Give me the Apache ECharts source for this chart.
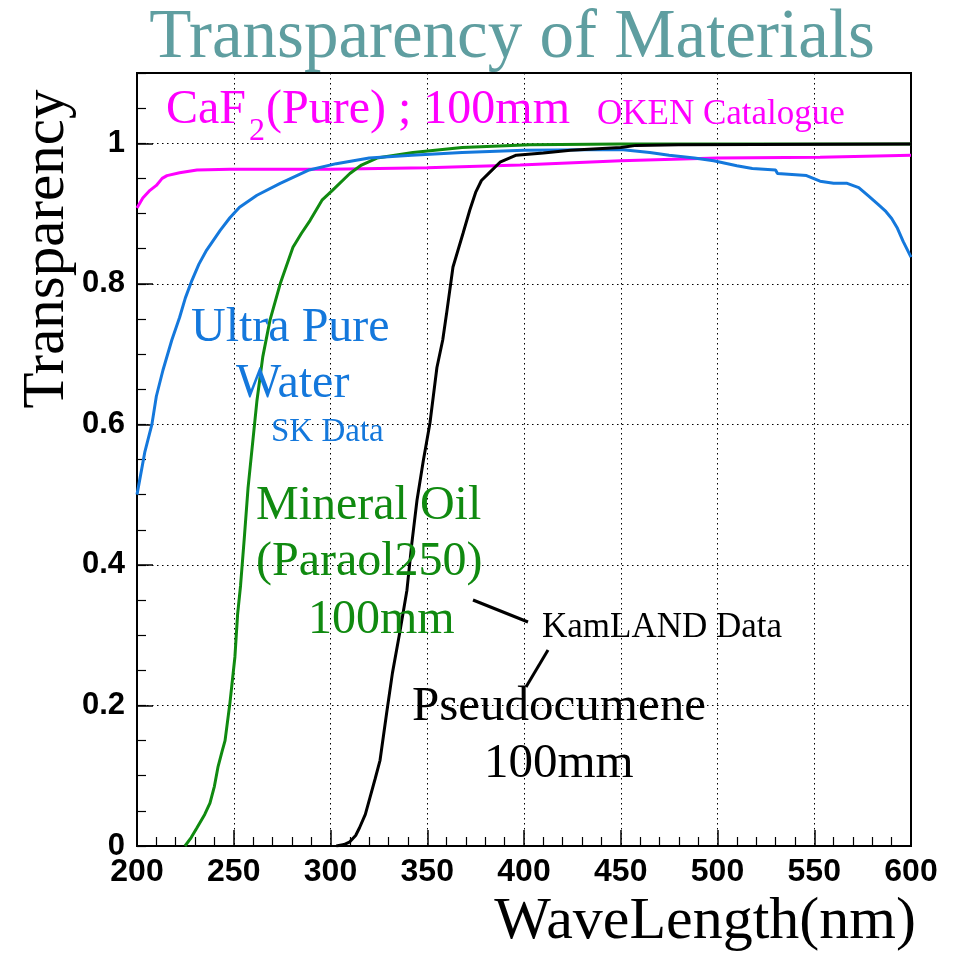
<!DOCTYPE html>
<html>
<head>
<meta charset="utf-8">
<script src="https://cdn.jsdelivr.net/npm/echarts@6/dist/echarts.min.js"></script>
<style>html,body{margin:0;padding:0;background:#fff}#c{width:959px;height:955px}</style>
</head>
<body>
<div id="c"></div>
<script>
// ---- data ----
const xTicks = [200, 250, 300, 350, 400, 450, 500, 550, 600];
const yTicks = [0, 0.2, 0.4, 0.6, 0.8, 1];

const caf2Wl = [200, 203, 206.7, 210, 213, 215.5, 222, 231, 248, 300, 350, 398, 450, 500, 553, 600];
const caf2T  = [0.908, 0.922, 0.933, 0.940, 0.950, 0.954, 0.958, 0.962, 0.963, 0.963, 0.965, 0.969, 0.975, 0.979, 0.980, 0.983];

const waterWl = [200, 204, 207.7, 210, 213.4, 218, 222, 225, 228.4, 232, 236, 243, 248, 253, 262, 274, 289, 303, 320, 342, 368, 400, 450, 465, 475, 488, 498, 510, 518, 530, 531, 546, 553, 560, 567, 573, 578, 583, 587, 590, 593, 596, 600];
const waterT  = [0.50, 0.56, 0.60, 0.64, 0.677, 0.72, 0.752, 0.78, 0.805, 0.828, 0.848, 0.876, 0.894, 0.909, 0.926, 0.943, 0.962, 0.971, 0.979, 0.983, 0.987, 0.990, 0.991, 0.987, 0.983, 0.979, 0.975, 0.968, 0.964, 0.962, 0.957, 0.954, 0.946, 0.943, 0.943, 0.937, 0.925, 0.913, 0.903, 0.893, 0.879, 0.860, 0.838];

const oilWl = [224.8, 228, 231, 235, 237.7, 240, 241.9, 244, 245.5, 248, 250.6, 252, 253.5, 255.5, 257.4, 260, 262, 265, 268.7, 274, 280.6, 285, 289.4, 295.6, 301, 310, 316, 324, 342.6, 368, 403, 450, 600];
const oilT  = [0, 0.012, 0.026, 0.045, 0.061, 0.085, 0.113, 0.135, 0.15, 0.203, 0.269, 0.33, 0.37, 0.44, 0.51, 0.58, 0.634, 0.696, 0.748, 0.80, 0.852, 0.872, 0.89, 0.919, 0.933, 0.957, 0.969, 0.979, 0.987, 0.994, 0.998, 0.999, 0.999];

const pcWl = [303, 307, 310, 313, 315, 318, 320, 323, 325.6, 329, 332, 336, 339.5, 342, 344.7, 348, 351.4, 355, 358, 360, 363.3, 368.5, 372, 375, 378, 382.4, 387.6, 396, 410, 424, 450, 458, 480, 600];
const pcT  = [0, 0.002, 0.006, 0.015, 0.026, 0.045, 0.065, 0.095, 0.122, 0.189, 0.246, 0.307, 0.364, 0.43, 0.492, 0.549, 0.602, 0.681, 0.72, 0.758, 0.824, 0.872, 0.905, 0.93, 0.947, 0.959, 0.973, 0.983, 0.986, 0.99, 0.994, 0.997, 0.998, 0.999];

// ---- chart ----
const pairs = (xs, ys) => xs.map((x, i) => [x, ys[i]]);
const SERIF = '"Liberation Serif", "Times New Roman", serif';
const SANS = '"Liberation Sans", Arial, sans-serif';

const chart = echarts.init(document.getElementById('c'), null, {renderer: 'canvas'});

function txt(text, x, y, size, color, align) {
  return {type: 'text', z: 100, style: {text: text, x: x, y: y, fill: color,
    font: size + 'px ' + SERIF, textAlign: align || 'left', textVerticalAlign: 'bottom'}};
}

const option = {
  backgroundColor: '#fff',
  animation: false,
  grid: {left: 137, right: 48, top: 73, bottom: 109, show: true, borderColor: '#000', borderWidth: 2, backgroundColor: 'transparent'},
  xAxis: {
    type: 'value', min: xTicks[0], max: xTicks[xTicks.length - 1], interval: 50,
    axisLine: {show: true, onZero: false, lineStyle: {color: '#000', width: 2}},
    axisTick: {show: true, inside: true, length: 16, lineStyle: {color: '#000', width: 1.5}},
    minorTick: {show: true, splitNumber: 5, length: 9, lineStyle: {color: '#000', width: 1.2}},
    splitLine: {show: true, lineStyle: {color: '#000', type: [1.5, 3.5], width: 1}},
    axisLabel: {color: '#000', fontFamily: SANS, fontSize: 32, fontWeight: 'bold', margin: 10}
  },
  yAxis: [{
    type: 'value', min: 0, max: 1.1, interval: 0.2,
    axisLine: {show: true, lineStyle: {color: '#000', width: 2}},
    axisTick: {show: true, inside: true, length: 16, lineStyle: {color: '#000', width: 1.5}},
    splitLine: {show: true, lineStyle: {color: '#000', type: [1.5, 3.5], width: 1}},
    axisLabel: {color: '#000', fontFamily: SANS, fontSize: 31, fontWeight: 'bold', margin: 12,
      formatter: v => (yTicks.indexOf(Math.round(v * 10) / 10) >= 0 && v <= 1.0001) ? String(Math.round(v * 10) / 10) : ''}
  }, {
    type: 'value', min: 0, max: 1.1, interval: 0.05, position: 'left', offset: 0,
    axisLine: {show: false},
    axisTick: {show: true, inside: true, length: 9, lineStyle: {color: '#000', width: 1.2}},
    splitLine: {show: false},
    axisLabel: {show: false}
  }],
  series: [
    {type: 'line', name: 'CaF2', data: pairs(caf2Wl, caf2T), showSymbol: false, lineStyle: {color: '#ff00ff', width: 3}, z: 3},
    {type: 'line', name: 'Mineral Oil', data: pairs(oilWl, oilT), showSymbol: false, lineStyle: {color: '#108a10', width: 3}, z: 4},
    {type: 'line', name: 'Water', data: pairs(waterWl, waterT), showSymbol: false, lineStyle: {color: '#1478dc', width: 3}, z: 5},
    {type: 'line', name: 'Pseudocumene', data: pairs(pcWl, pcT), showSymbol: false, lineStyle: {color: '#000', width: 3}, z: 6}
  ],
  graphic: [
    txt('Transparency of Materials', 512, 73, 69, '#5f9ea0', 'center'),
    txt('CaF', 166, 134, 48, '#ff00ff'),
    txt('2', 249, 148, 32, '#ff00ff'),
    txt('(Pure) ; 100mm', 266, 134, 48, '#ff00ff'),
    txt('OKEN Catalogue', 597, 132, 35, '#ff00ff'),
    txt('Ultra Pure', 191, 352, 48, '#1478dc'),
    txt('Water', 236, 408, 48, '#1478dc'),
    txt('SK Data', 271, 449, 33, '#1478dc'),
    txt('Mineral Oil', 256, 530, 48, '#108a10'),
    txt('(Paraol250)', 256, 586, 48, '#108a10'),
    txt('100mm', 308, 644, 48, '#108a10'),
    txt('KamLAND Data', 542, 645, 35, '#000'),
    txt('Pseudocumene', 412, 732, 49, '#000'),
    txt('100mm', 484, 789, 49, '#000'),
    txt('WaveLength(nm)', 916, 952, 60, '#000', 'right'),
    {type: 'text', z: 100, x: 47, y: 249, rotation: Math.PI / 2,
     style: {text: 'Transparency', fill: '#000', font: '59px ' + SERIF, textAlign: 'center', textVerticalAlign: 'middle'}},
    {type: 'line', z: 100, shape: {x1: 473, y1: 600, x2: 528, y2: 622}, style: {stroke: '#000', lineWidth: 3}},
    {type: 'line', z: 100, shape: {x1: 548, y1: 650, x2: 526, y2: 687}, style: {stroke: '#000', lineWidth: 3}}
  ]
};
chart.setOption(option);
</script>
</body>
</html>
